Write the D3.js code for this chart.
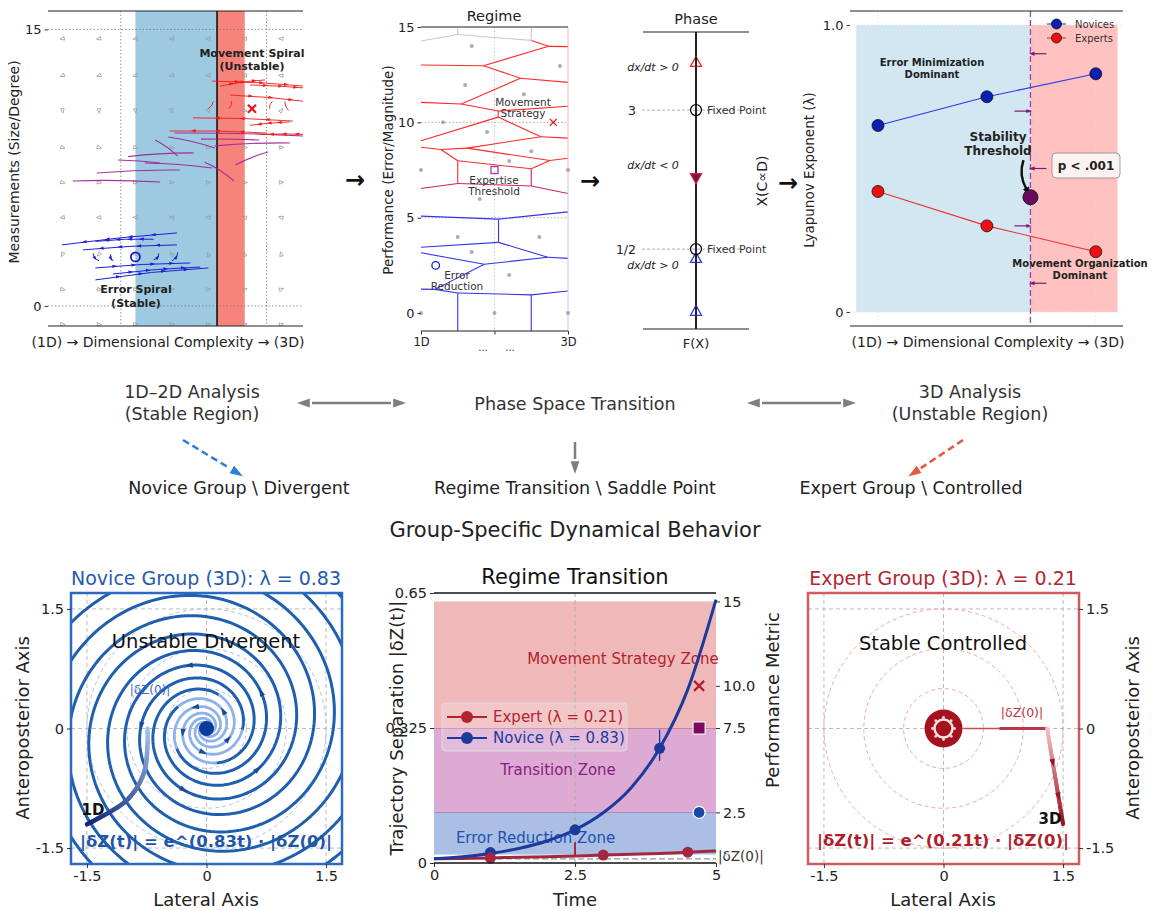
<!DOCTYPE html>
<html>
<head>
<meta charset="utf-8">
<script src="https://cdn.jsdelivr.net/npm/d3@7"></script>
<style>
  body { margin: 0; background: #fff; }
  text { font-family: "DejaVu Sans", sans-serif; }
</style>
</head>
<body>
<svg id="chart" width="1153" height="910"></svg>
<script>
// ---------------- data ----------------
// panel A: phase portrait
const bandsA = [
  { x0: 1.2, x1: 2.32, fill: "#9ecae1" },
  { x0: 2.32, x1: 2.7, fill: "#f6847b" }
];
const thresholdA = 2.32;
const quiverX = [0.2, 0.7, 1.2, 1.7, 2.2, 2.7, 3.2];
const quiverY = [14.5, 12.5, 10.6, 8.6, 6.7, 4.8, 2.8, 0.9, -1.0];
const errorCentre = [1.2, 2.66];
const movementCentre = [2.8, 10.7];
// streams: [x0, y0, x1, y1, bend(px)]
const blueStreams = [
  [1.77, 3.96, 0.19, 3.31, 2], [1.77, 3.31, 0.48, 3.04, 2], [1.45, 3.62, 0.65, 3.5, 2],
  [0.65, 2.06, 1.95, 2.33, -2], [0.65, 1.41, 2.2, 2.06, -3], [0.89, 1.73, 2.09, 2.11, -2],
  [0.62, 2.85, 0.7, 2.45, 3], [0.86, 2.8, 0.9, 2.45, 3], [1.45, 2.5, 1.52, 2.85, 3], [1.7, 2.45, 1.78, 2.9, 3]
];
const purpleStreams = [
  [1.81, 7.37, 0.67, 7.21, 2], [1.54, 6.72, 0.34, 6.78, 2], [2.25, 7.48, 1.33, 7.75, 2],
  [2.29, 8.57, 1.65, 9.16, 2], [1.78, 8.13, 1.47, 9.0, 2], [2.55, 6.78, 2.15, 7.8, 3],
  [3.5, 9.22, 1.74, 9.38, 2], [3.32, 8.84, 2.29, 8.68, 2], [1.54, 7.75, 0.96, 7.92, 1],
  [3.02, 8.35, 2.57, 7.64, 2], [2.0, 8.3, 1.1, 8.1, 2], [2.9, 9.0, 2.1, 9.05, 1]
];
const redStreams = [
  [2.25, 12.2, 3.6, 11.9, -2], [2.36, 11.93, 2.98, 12.26, -2], [2.77, 11.99, 3.6, 11.8, -1],
  [2.5, 11.44, 3.6, 11.06, -2], [3.36, 10.03, 1.99, 10.2, 2], [3.0, 9.38, 1.67, 9.49, 2],
  [3.32, 9.98, 2.77, 9.8, 1], [3.6, 9.3, 2.9, 9.3, 1],
  [2.2, 10.7, 2.27, 11.1, 2], [2.48, 10.7, 2.52, 11.1, 2], [3.04, 10.7, 3.08, 11.1, -2], [3.3, 10.6, 3.25, 11.1, -2]
];

// panel B: regime voronoi
const regimeDots = [
  [1.69, 14.0], [2.89, 12.95], [1.6, 11.96], [2.4, 11.48], [1.3, 10.0], [1.9, 9.49],
  [2.5, 8.49], [2.2, 7.97], [1.0, 7.5], [3.0, 7.5], [1.8, 5.98], [1.5, 3.99],
  [2.61, 3.99], [1.69, 3.2], [2.2, 1.99], [1, 0], [2, 0], [3, 0]
];
const regimeEdgeSeeds = [[1, 15], [2, 15], [3, 15]];
const errorMarkB = [1.2, 2.5];
const thresholdMarkB = [2.0, 7.5];
const movementMarkB = [2.8, 10.0];

// panel C: phase line (position along the line, 0 = bottom, 10 = top)
const phaseTriangles = [
  { v: 8.99, dir: "up", stroke: "#e8231f", fill: "none" },
  { v: 5.08, dir: "down", stroke: "#d0203a", fill: "#7a0f5a" },
  { v: 2.39, dir: "up", stroke: "#2a3fd0", fill: "none" },
  { v: 0.61, dir: "up", stroke: "#2a3fd0", fill: "none" }
];
const fixedPoints = [{ v: 7.37, label: "3" }, { v: 2.69, label: "1/2" }];
const rateLabels = [{ v: 8.8, s: "dx/dt > 0" }, { v: 5.5, s: "dx/dt < 0" }, { v: 2.13, s: "dx/dt > 0" }];

// panel D: Lyapunov exponent
const dimPos = [0, 1, 2];
const novicesLam = [0.65, 0.75, 0.83];
const expertsLam = [0.42, 0.30, 0.21];
const stabilityX = 1.4, stabilityY = 0.40;
const flowArrows = [{ y: 0.90, dir: -1 }, { y: 0.70, dir: 1 }, { y: 0.50, dir: -1 }, { y: 0.30, dir: 1 }, { y: 0.10, dir: -1 }];

// bottom middle: regime transition
const timeGrid = [0, 0.5, 1, 1.5, 2, 2.5, 3, 3.5, 4, 4.5, 5];
const noviceSep = [0.010, 0.015, 0.023, 0.035, 0.053, 0.080, 0.121, 0.182, 0.276, 0.418, 0.634];
const expertSep = [0.010, 0.011, 0.012, 0.014, 0.015, 0.017, 0.019, 0.021, 0.023, 0.026, 0.029];
const noviceMarks = [[1, 0.025], [2.5, 0.080], [4, 0.276]];
const expertMarks = [[1, 0.012], [3, 0.019], [4.5, 0.026]];
const zones = [
  { lo: 0, hi: 2.5, fill: "#aabfe3", edge: "#8e78c0", label: "Error Reduction Zone", lx: 1.8, ly: 1.0, color: "#2350b0" },
  { lo: 2.5, hi: 7.5, fill: "#dcaad3", edge: "#c0507a", label: "Transition Zone", lx: 2.2, ly: 5.0, color: "#8a1b86" },
  { lo: 7.5, hi: 15, fill: "#efb9b9", edge: "none", label: "Movement Strategy Zone", lx: 3.35, ly: 11.6, color: "#b3232f" }
];
const dz0 = 0.01;

// bottom sides: spirals
const lamNovice = 0.83, lamExpert = 0.21;
const novArms = 5, novA = 0.00116, novP = 2.46, novTheta = [4.6, 23];
const ringRadii = [0.5, 1.0, 1.5];
const noviceTraj = [[-0.74, 0], [-0.74, -0.2], [-0.79, -0.57], [-1.0, -0.9], [-1.5, -1.2]];
const expertTraj = [[1.3, 0], [1.5, -1.2]];

// ---------------- helpers ----------------
const svg = d3.select("#chart");
svg.append("rect").attr("width", 1153).attr("height", 910).attr("fill", "#fff");
const defs = svg.append("defs");

function addText(g, x, y, s, o = {}) {
  const t = g.append("text").attr("x", x).attr("y", y).text(s)
    .attr("text-anchor", o.anchor || "middle")
    .attr("dominant-baseline", "central")
    .attr("font-size", o.size || 12)
    .attr("font-weight", o.weight || "normal")
    .attr("font-style", o.style || "normal")
    .attr("fill", o.fill || "#222");
  if (o.rotate) t.attr("transform", `rotate(${o.rotate},${x},${y})`);
  return t;
}
function arrowHead(g, x, y, ang, size, color) {
  const pts = [[size, 0], [-size * 0.6, size * 0.55], [-size * 0.6, -size * 0.55]]
    .map(([a, b]) => [x + a * Math.cos(ang) - b * Math.sin(ang), y + a * Math.sin(ang) + b * Math.cos(ang)]);
  g.append("path").attr("d", "M" + pts.join("L") + "Z").attr("fill", color);
}
function stream(g, xs, ys, s, color, w, nArrows, opacity) {
  const p0 = [xs(s[0]), ys(s[1])], p2 = [xs(s[2]), ys(s[3])];
  const dx = p2[0] - p0[0], dy = p2[1] - p0[1], L = Math.hypot(dx, dy);
  const p1 = [(p0[0] + p2[0]) / 2 - dy / L * s[4], (p0[1] + p2[1]) / 2 + dx / L * s[4]];
  g.append("path").attr("d", `M${p0}Q${p1} ${p2}`).attr("fill", "none")
    .attr("stroke", color).attr("stroke-width", w).attr("opacity", opacity || 1);
  for (let k = 1; k <= nArrows; k++) {
    const t = k / (nArrows + 1);
    const px = (1 - t) ** 2 * p0[0] + 2 * (1 - t) * t * p1[0] + t * t * p2[0];
    const py = (1 - t) ** 2 * p0[1] + 2 * (1 - t) * t * p1[1] + t * t * p2[1];
    const ddx = 2 * (1 - t) * (p1[0] - p0[0]) + 2 * t * (p2[0] - p1[0]);
    const ddy = 2 * (1 - t) * (p1[1] - p0[1]) + 2 * t * (p2[1] - p1[1]);
    arrowHead(g, px, py, Math.atan2(ddy, ddx), 3, color);
  }
}
function styleAxis(g, fs) {
  g.select(".domain").remove();
  g.attr("font-family", "DejaVu Sans, sans-serif");
  g.selectAll(".tick text").attr("font-size", fs).attr("fill", "#222");
  g.selectAll(".tick line").attr("stroke", "#333");
}
function clip(id, x, y, w, h) {
  defs.append("clipPath").attr("id", id).append("rect").attr("x", x).attr("y", y).attr("width", w).attr("height", h);
  return `url(#${id})`;
}
function gradientPath(g, pts, xs, ys, c0, c1, w) {
  const tmp = g.append("path").attr("d", d3.line().x(d => xs(d[0])).y(d => ys(d[1])).curve(d3.curveCatmullRom)(pts))
    .attr("fill", "none");
  const node = tmp.node(), len = node.getTotalLength(), n = 40;
  let prev = node.getPointAtLength(0);
  for (let i = 1; i <= n; i++) {
    const p = node.getPointAtLength(len * i / n);
    g.append("line").attr("x1", prev.x).attr("y1", prev.y).attr("x2", p.x).attr("y2", p.y)
      .attr("stroke", d3.interpolateRgb(c0, c1)(i / n)).attr("stroke-width", w).attr("stroke-linecap", "round");
    prev = p;
  }
  tmp.remove();
}
const fmtTick = d => d === 0 ? "0" : String(d);

// ---------------- panel A ----------------
const gA = svg.append("g");
const xA = d3.scaleLinear().domain([0, 3.5]).range([48, 303]);
const yA = d3.scaleLinear().domain([-1.09, 16.0]).range([326, 11]);
const gAc = gA.append("g").attr("clip-path", clip("clipA", 48, 11, 255, 315));

bandsA.forEach(b => gAc.append("rect").attr("x", xA(b.x0)).attr("y", 11)
  .attr("width", xA(b.x1) - xA(b.x0)).attr("height", 315).attr("fill", b.fill));
[0, 15].forEach(v => gAc.append("line").attr("x1", 48).attr("x2", 303).attr("y1", yA(v)).attr("y2", yA(v))
  .attr("stroke", "#777").attr("stroke-width", 0.8).attr("stroke-dasharray", "1.5,2"));
[1, 3].forEach(v => gAc.append("line").attr("x1", xA(v)).attr("x2", xA(v)).attr("y1", 11).attr("y2", 326)
  .attr("stroke", "#777").attr("stroke-width", 0.8).attr("stroke-dasharray", "1.5,2"));
gAc.append("line").attr("x1", xA(thresholdA)).attr("x2", xA(thresholdA)).attr("y1", 11).attr("y2", 326)
  .attr("stroke", "#111").attr("stroke-width", 1.6);

// grey direction field (small open triangles)
quiverX.forEach(qx => quiverY.forEach(qy => {
  const c = qy > 6 ? movementCentre : errorCentre;
  const ang = Math.atan2(-(qx - c[0]) * 0.3, -(qy - c[1]));
  const px = xA(qx), py = yA(qy), s = 2.6;
  const pts = [[s, 0], [-s * 0.7, s * 0.7], [-s * 0.7, -s * 0.7]]
    .map(([a, b]) => [px + a * Math.cos(ang) - b * Math.sin(ang), py + a * Math.sin(ang) + b * Math.cos(ang)]);
  gAc.append("path").attr("d", "M" + pts.join("L") + "Z")
    .attr("fill", "none").attr("stroke", "#9a9a9a").attr("stroke-width", 0.8);
}));

purpleStreams.forEach(s => stream(gAc, xA, yA, s, "#9b1f95", 1.1, 0, 0.9));
redStreams.forEach(s => stream(gAc, xA, yA, s, "#f21b1b", 1, Math.abs(s[0] - s[2]) > 0.3 ? 3 : 0, 0.9));
blueStreams.forEach(s => stream(gAc, xA, yA, s, "#1d1fd6", 1, Math.abs(s[0] - s[2]) > 0.3 ? 4 : 1));

gA.append("circle").attr("cx", xA(errorCentre[0])).attr("cy", yA(errorCentre[1])).attr("r", 4.5)
  .attr("fill", "none").attr("stroke", "#1a1ad0").attr("stroke-width", 1.8);
{
  const cx = xA(movementCentre[0]), cy = yA(movementCentre[1]), r = 4;
  gA.append("path").attr("d", `M${cx - r},${cy - r}L${cx + r},${cy + r}M${cx - r},${cy + r}L${cx + r},${cy - r}`)
    .attr("stroke", "#e8141a").attr("stroke-width", 2.2);
}
addText(gA, 252, 53, "Movement Spiral", { size: 11, weight: "bold" });
addText(gA, 252, 66, "(Unstable)", { size: 11, weight: "bold" });
addText(gA, 136, 289, "Error Spiral", { size: 11, weight: "bold" });
addText(gA, 136, 303, "(Stable)", { size: 11, weight: "bold" });

gA.append("line").attr("x1", 48).attr("x2", 303).attr("y1", 11).attr("y2", 11).attr("stroke", "#222");
gA.append("line").attr("x1", 48).attr("x2", 303).attr("y1", 326).attr("y2", 326).attr("stroke", "#222");
gA.append("g").attr("transform", "translate(48,0)")
  .call(d3.axisLeft(yA).tickValues([0, 15]).tickSize(3.5).tickPadding(3)).call(g => styleAxis(g, 13));
addText(gA, 14, 162, "Measurements (Size/Degree)", { size: 14, rotate: -90 });
addText(gA, 168, 342, "(1D)   →   Dimensional Complexity   →   (3D)", { size: 14 });

// ---------------- panel B ----------------
const gB = svg.append("g");
const xB = d3.scaleLinear().domain([1, 3]).range([421, 568]);
const yB = d3.scaleLinear().domain([-0.94, 15]).range([331, 27]);
[5, 10].forEach(v => gB.append("line").attr("x1", 421).attr("x2", 568).attr("y1", yB(v)).attr("y2", yB(v))
  .attr("stroke", "#999").attr("stroke-width", 0.8).attr("stroke-dasharray", "1.5,2"));
gB.append("line").attr("x1", xB(2)).attr("x2", xB(2)).attr("y1", 27).attr("y2", 331)
  .attr("stroke", "#bbb").attr("stroke-width", 0.8).attr("stroke-dasharray", "1.5,2");

const seeds = regimeDots.concat(regimeEdgeSeeds, [errorMarkB, thresholdMarkB, movementMarkB]);
const vor = d3.Delaunay.from(seeds).voronoi([1, -0.94, 3, 15]);
const seen = new Set();
const edgeColor = y => y > 14.2 ? "#c8c8c8" : y > 7.2 ? "#ff2a2a" : y > 5.8 ? "#d0206a" : "#3333ee";
for (let i = 0; i < seeds.length; i++) {
  const poly = vor.cellPolygon(i);
  if (!poly) continue;
  for (let k = 0; k < poly.length - 1; k++) {
    const a = poly[k], b = poly[k + 1];
    const onBound = (Math.abs(a[0] - b[0]) < 1e-9 && (Math.abs(a[0] - 1) < 1e-9 || Math.abs(a[0] - 3) < 1e-9)) ||
      (Math.abs(a[1] - b[1]) < 1e-9 && (Math.abs(a[1] + 0.94) < 1e-9 || Math.abs(a[1] - 15) < 1e-9));
    if (onBound) continue;
    const key = [a, b].map(p => p.map(v => v.toFixed(4)).join(",")).sort().join("|");
    if (seen.has(key)) continue;
    seen.add(key);
    gB.append("line").attr("x1", xB(a[0])).attr("y1", yB(a[1])).attr("x2", xB(b[0])).attr("y2", yB(b[1]))
      .attr("stroke", edgeColor((a[1] + b[1]) / 2)).attr("stroke-width", 1.1);
  }
}
gB.append("line").attr("x1", 568).attr("x2", 568).attr("y1", yB(7)).attr("y2", 27).attr("stroke", "#f4b4b4");
gB.append("line").attr("x1", 568).attr("x2", 568).attr("y1", yB(7)).attr("y2", 331).attr("stroke", "#c4c4f4");
regimeDots.forEach(d => gB.append("circle").attr("cx", xB(d[0])).attr("cy", yB(d[1])).attr("r", 2)
  .attr("fill", "#999").attr("opacity", 0.8));
gB.append("circle").attr("cx", xB(errorMarkB[0])).attr("cy", yB(errorMarkB[1])).attr("r", 3.8)
  .attr("fill", "none").attr("stroke", "#1a1ad0").attr("stroke-width", 1.3);
gB.append("rect").attr("x", xB(thresholdMarkB[0]) - 3.5).attr("y", yB(thresholdMarkB[1]) - 3.5)
  .attr("width", 7).attr("height", 7).attr("fill", "none").attr("stroke", "#a040a8").attr("stroke-width", 1.3);
{
  const cx = xB(movementMarkB[0]), cy = yB(movementMarkB[1]), r = 3.5;
  gB.append("path").attr("d", `M${cx - r},${cy - r}L${cx + r},${cy + r}M${cx - r},${cy + r}L${cx + r},${cy - r}`)
    .attr("stroke", "#e8141a").attr("stroke-width", 1.3);
}
addText(gB, 523, 102, "Movement", { size: 10.5, fill: "#333" });
addText(gB, 523, 113, "Strategy", { size: 10.5, fill: "#333" });
addText(gB, 494, 180, "Expertise", { size: 10.5, fill: "#333" });
addText(gB, 494, 191, "Threshold", { size: 10.5, fill: "#333" });
addText(gB, 457, 275, "Error", { size: 10.5, fill: "#333" });
addText(gB, 457, 286, "Reduction", { size: 10.5, fill: "#333" });
gB.append("line").attr("x1", 421).attr("x2", 568).attr("y1", 27).attr("y2", 27).attr("stroke", "#222");
gB.append("line").attr("x1", 421).attr("x2", 568).attr("y1", 331).attr("y2", 331).attr("stroke", "#222");
gB.append("g").attr("transform", "translate(421,0)")
  .call(d3.axisLeft(yB).tickValues([0, 5, 10, 15]).tickSize(3.5).tickPadding(3)).call(g => styleAxis(g, 13));
gB.append("g").attr("transform", "translate(0,331)")
  .call(d3.axisBottom(xB).tickValues([1, 2, 3]).tickSize(3.5).tickFormat(d => d === 1 ? "1D" : d === 3 ? "3D" : ""))
  .call(g => styleAxis(g, 11.5));
addText(gB, 483, 347, "...", { size: 10, fill: "#333" });
addText(gB, 510, 347, "...", { size: 10, fill: "#333" });
addText(gB, 494, 16, "Regime", { size: 14.5 });
addText(gB, 388, 170, "Performance (Error/Magnitude)", { size: 13.5, rotate: -90 });

// ---------------- panel C ----------------
const gC = svg.append("g");
const yC = d3.scaleLinear().domain([0, 10]).range([329, 32]);
const xLine = 696;
gC.append("line").attr("x1", 643).attr("x2", 749).attr("y1", 32).attr("y2", 32).attr("stroke", "#222").attr("stroke-width", 1.2);
gC.append("line").attr("x1", 643).attr("x2", 749).attr("y1", 329).attr("y2", 329).attr("stroke", "#222").attr("stroke-width", 1.2);
fixedPoints.forEach(f => {
  gC.append("line").attr("x1", 642).attr("x2", 742).attr("y1", yC(f.v)).attr("y2", yC(f.v))
    .attr("stroke", "#999").attr("stroke-width", 0.8).attr("stroke-dasharray", "3,2");
});
gC.append("line").attr("x1", xLine).attr("x2", xLine).attr("y1", 32).attr("y2", 329).attr("stroke", "#222").attr("stroke-width", 2);
phaseTriangles.forEach(t => {
  const cy = yC(t.v), s = 5.5;
  const d = t.dir === "up" ? `M${xLine},${cy - s}L${xLine + s},${cy + s * 0.8}L${xLine - s},${cy + s * 0.8}Z`
    : `M${xLine},${cy + s}L${xLine + s},${cy - s * 0.8}L${xLine - s},${cy - s * 0.8}Z`;
  gC.append("path").attr("d", d).attr("fill", t.fill === "none" ? "#fff" : t.fill).attr("stroke", t.stroke).attr("stroke-width", 1.3);
  if (t.fill === "none") gC.append("line").attr("x1", xLine).attr("x2", xLine).attr("y1", cy - s).attr("y2", cy + s * 0.8).attr("stroke", "#222").attr("stroke-width", 2);
});
fixedPoints.forEach(f => {
  gC.append("circle").attr("cx", xLine).attr("cy", yC(f.v)).attr("r", 5.5).attr("fill", "none").attr("stroke", "#111").attr("stroke-width", 1.3);
  addText(gC, 707, yC(f.v), "Fixed Point", { size: 11, anchor: "start", fill: "#333" });
  addText(gC, 636, yC(f.v), f.label, { size: 12.5, anchor: "end" });
});
rateLabels.forEach(r => addText(gC, 653, yC(r.v), r.s, { size: 11, style: "italic", fill: "#222" }));
addText(gC, xLine, 19, "Phase", { size: 14.5 });
addText(gC, xLine, 343, "F(X)", { size: 13 });
addText(gC, 762, 181, "X(C∝D)", { size: 14, rotate: -90 });

// ---------------- panel D ----------------
const gD = svg.append("g");
const xD = d3.scaleLinear().domain([-0.257, 2.25]).range([850, 1123]);
const yD = d3.scaleLinear().domain([-0.049, 1.049]).range([326, 11]);
gD.append("rect").attr("x", xD(-0.2)).attr("y", yD(1)).attr("width", xD(stabilityX) - xD(-0.2)).attr("height", yD(0) - yD(1)).attr("fill", "#d2e7f1");
gD.append("rect").attr("x", xD(stabilityX)).attr("y", yD(1)).attr("width", xD(2.2) - xD(stabilityX)).attr("height", yD(0) - yD(1)).attr("fill", "#ffc2c0");
dimPos.filter(d => d !== 1).forEach(d => gD.append("line").attr("x1", xD(d)).attr("x2", xD(d)).attr("y1", 11).attr("y2", 326)
  .attr("stroke", "#ddd").attr("stroke-width", 0.8).attr("stroke-dasharray", "1.5,2"));
[0, 1].forEach(v => gD.append("line").attr("x1", 850).attr("x2", 1123).attr("y1", yD(v)).attr("y2", yD(v))
  .attr("stroke", "#ddd").attr("stroke-width", 0.8).attr("stroke-dasharray", "1.5,2"));
gD.append("line").attr("x1", xD(stabilityX)).attr("x2", xD(stabilityX)).attr("y1", 11).attr("y2", 326)
  .attr("stroke", "#a040a8").attr("stroke-width", 1.3).attr("stroke-dasharray", "6,3");
flowArrows.forEach(f => {
  const x0 = xD(stabilityX), y = yD(f.y);
  const xs = f.dir < 0 ? x0 + 16 : x0 - 16, xe = f.dir < 0 ? x0 + 2 : x0 - 2;
  gD.append("line").attr("x1", xs).attr("x2", xe).attr("y1", y).attr("y2", y).attr("stroke", "#7a1a7a").attr("stroke-width", 1.2);
  arrowHead(gD, xe, y, f.dir < 0 ? Math.PI : 0, 3.5, "#7a1a7a");
});
const lineD = d3.line().x((d, i) => xD(dimPos[i])).y(d => yD(d));
gD.append("path").attr("d", lineD(novicesLam)).attr("fill", "none").attr("stroke", "#2a3ae8").attr("stroke-width", 1.1);
gD.append("path").attr("d", lineD(expertsLam)).attr("fill", "none").attr("stroke", "#f03030").attr("stroke-width", 1.1);
novicesLam.forEach((v, i) => gD.append("circle").attr("cx", xD(dimPos[i])).attr("cy", yD(v)).attr("r", 6).attr("fill", "#0b1fb0").attr("stroke", "#111").attr("stroke-width", 0.8));
expertsLam.forEach((v, i) => gD.append("circle").attr("cx", xD(dimPos[i])).attr("cy", yD(v)).attr("r", 6).attr("fill", "#ee1010").attr("stroke", "#111").attr("stroke-width", 0.8));
gD.append("path").attr("d", `M${xD(stabilityX) - 7},${yD(stabilityY) - 37}Q${xD(stabilityX) - 12},${yD(stabilityY) - 22} ${xD(stabilityX) - 4},${yD(stabilityY) - 8}`)
  .attr("fill", "none").attr("stroke", "#111").attr("stroke-width", 2.5);
arrowHead(gD, xD(stabilityX) - 3, yD(stabilityY) - 6, 1.15, 6, "#111");
gD.append("circle").attr("cx", xD(stabilityX)).attr("cy", yD(stabilityY)).attr("r", 7.5).attr("fill", "#6a0a5e").attr("stroke", "#111").attr("stroke-width", 0.9);
addText(gD, 932, 62, "Error Minimization", { size: 10, weight: "bold" });
addText(gD, 932, 74, "Dominant", { size: 10, weight: "bold" });
addText(gD, 998, 137, "Stability", { size: 12, weight: "bold" });
addText(gD, 998, 151, "Threshold", { size: 12, weight: "bold" });
addText(gD, 1080, 263, "Movement Organization", { size: 10, weight: "bold" });
addText(gD, 1080, 275, "Dominant", { size: 10, weight: "bold" });
gD.append("rect").attr("x", 1052).attr("y", 153).attr("width", 68).attr("height", 25).attr("rx", 4)
  .attr("fill", "#fdf2f2").attr("stroke", "#888").attr("stroke-width", 0.8);
addText(gD, 1086, 165.5, "p < .001", { size: 12, weight: "bold" });
[{ y: 24, s: "Novices", line: "#2a3ae8", fill: "#0b1fb0" }, { y: 38, s: "Experts", line: "#f03030", fill: "#ee1010" }].forEach(l => {
  gD.append("line").attr("x1", 1047).attr("x2", 1066).attr("y1", l.y).attr("y2", l.y).attr("stroke", l.line).attr("stroke-width", 1.1);
  gD.append("circle").attr("cx", 1056.5).attr("cy", l.y).attr("r", 5).attr("fill", l.fill).attr("stroke", "#111").attr("stroke-width", 0.8);
  addText(gD, 1075, l.y, l.s, { size: 10, anchor: "start", fill: "#333" });
});
gD.append("line").attr("x1", 850).attr("x2", 1123).attr("y1", 11).attr("y2", 11).attr("stroke", "#222");
gD.append("line").attr("x1", 850).attr("x2", 1123).attr("y1", 326).attr("y2", 326).attr("stroke", "#222");
gD.append("g").attr("transform", "translate(850,0)")
  .call(d3.axisLeft(yD).tickValues([0, 1]).tickSize(3.5).tickPadding(3).tickFormat(d => d === 0 ? "0" : "1.0"))
  .call(g => styleAxis(g, 13));
addText(gD, 809, 170, "Lyapunov Exponent (λ)", { size: 13.5, rotate: -90 });
addText(gD, 988, 342, "(1D) → Dimensional Complexity → (3D)", { size: 14 });

// arrows between top panels
[[355, 180], [590, 181], [788, 183]].forEach(([x, y]) => addText(svg, x, y, "→", { size: 24, weight: "bold", fill: "#111" }));

// ---------------- middle flow ----------------
const gM = svg.append("g");
addText(gM, 192, 392, "1D–2D Analysis", { size: 17.5, fill: "#333" });
addText(gM, 192, 414, "(Stable Region)", { size: 17.5, fill: "#333" });
addText(gM, 575, 404, "Phase Space Transition", { size: 17.5, fill: "#333" });
addText(gM, 970, 392, "3D Analysis", { size: 17.5, fill: "#333" });
addText(gM, 970, 414, "(Unstable Region)", { size: 17.5, fill: "#333" });
addText(gM, 239, 488, "Novice Group \\ Divergent", { size: 17.5, fill: "#222" });
addText(gM, 575, 488, "Regime Transition \\ Saddle Point", { size: 17.5, fill: "#222" });
addText(gM, 911, 488, "Expert Group \\ Controlled", { size: 17.5, fill: "#222" });
addText(gM, 575, 530, "Group-Specific Dynamical Behavior", { size: 21, fill: "#222" });
function flowArrow(x0, y0, x1, y1, color, dash, both) {
  const ang = Math.atan2(y1 - y0, x1 - x0), off = 7;
  gM.append("line").attr("x1", x0 + (both ? off * Math.cos(ang) : 0)).attr("y1", y0 + (both ? off * Math.sin(ang) : 0))
    .attr("x2", x1 - off * Math.cos(ang)).attr("y2", y1 - off * Math.sin(ang))
    .attr("stroke", color).attr("stroke-width", 2.5).attr("stroke-dasharray", dash || null);
  arrowHead(gM, x1, y1, ang, 8, color);
  if (both) arrowHead(gM, x0, y0, ang + Math.PI, 8, color);
}
flowArrow(305, 403, 398, 403, "#7f7f7f", null, true);
flowArrow(755, 403, 848, 403, "#7f7f7f", null, true);
flowArrow(575, 442, 575, 466, "#7f7f7f", null, false);
flowArrow(183, 440, 236, 472, "#2a7fd8", "7,4", false);
flowArrow(963, 440, 915, 472, "#e5573f", "7,4", false);

// ---------------- bottom left: novice ----------------
const gN = svg.append("g");
const xN = d3.scaleLinear().domain([-1.7, 1.7]).range([71, 342]);
const yN = d3.scaleLinear().domain([-1.7, 1.7]).range([864, 593]);
const gNc = gN.append("g").attr("clip-path", clip("clipN", 71, 593, 271, 271));
[-1.5, 0, 1.5].forEach(v => {
  gNc.append("line").attr("x1", xN(v)).attr("x2", xN(v)).attr("y1", 593).attr("y2", 864).attr("stroke", "#bbb").attr("stroke-dasharray", "4,3");
  gNc.append("line").attr("y1", yN(v)).attr("y2", yN(v)).attr("x1", 71).attr("x2", 342).attr("stroke", "#bbb").attr("stroke-dasharray", "4,3");
});
ringRadii.forEach(r => gNc.append("circle").attr("cx", xN(0)).attr("cy", yN(0)).attr("r", xN(r) - xN(0))
  .attr("fill", "none").attr("stroke", "#a9c3ea").attr("stroke-width", 1).attr("stroke-dasharray", "4,3"));
const armLine = d3.line().x(d => xN(d[0])).y(d => yN(d[1]));
for (let k = 0; k < novArms; k++) {
  const ph = 2 * Math.PI * k / novArms, inner = [], outer = [];
  for (let th = novTheta[0]; th <= novTheta[1]; th += 0.04) {
    const r = novA * Math.pow(th, novP), p = [r * Math.cos(th + ph), r * Math.sin(th + ph)];
    if (r < 0.45) inner.push(p); else { if (!outer.length && inner.length) outer.push(inner[inner.length - 1]); outer.push(p); }
  }
  gNc.append("path").attr("d", armLine(inner)).attr("fill", "none").attr("stroke", "#8db1ea").attr("stroke-width", 2.8);
  gNc.append("path").attr("d", armLine(outer)).attr("fill", "none").attr("stroke", "#1f5fb0").attr("stroke-width", 3);
  [0.3, 0.82].forEach(r => {
    const th = Math.pow(r / novA, 1 / novP), dr = novA * novP * Math.pow(th, novP - 1);
    const dx = dr * Math.cos(th + ph) - r * Math.sin(th + ph), dy = dr * Math.sin(th + ph) + r * Math.cos(th + ph);
    arrowHead(gNc, xN(r * Math.cos(th + ph)), yN(r * Math.sin(th + ph)), Math.atan2(-dy, dx), 5, "#174a98");
  });
}
gNc.append("circle").attr("cx", xN(0)).attr("cy", yN(0)).attr("r", 7.5).attr("fill", "#0a3d99");
gradientPath(gNc, noviceTraj, xN, yN, "#a8c8f0", "#13257a", 4.5);
addText(gN, 150, 690, "|δZ(0)|", { size: 12, fill: "#3a6cc0" });
addText(gN, 206, 641, "Unstable Divergent", { size: 19.5, fill: "#111" });
addText(gN, 93, 810, "1D", { size: 15, weight: "bold", fill: "#111" });
addText(gN, 206, 841, `|δZ(t)| = e^(${lamNovice}t) · |δZ(0)|`, { size: 16.5, weight: "bold", fill: "#1f56a8" });
gN.append("rect").attr("x", 71).attr("y", 593).attr("width", 271).attr("height", 271).attr("fill", "none").attr("stroke", "#2c6ac2").attr("stroke-width", 2.5);
gN.append("g").attr("transform", "translate(71,0)").call(d3.axisLeft(yN).tickValues([-1.5, 0, 1.5]).tickSize(4).tickFormat(fmtTick)).call(g => styleAxis(g, 14.5));
gN.append("g").attr("transform", "translate(0,864)").call(d3.axisBottom(xN).tickValues([-1.5, 0, 1.5]).tickSize(4).tickFormat(fmtTick)).call(g => styleAxis(g, 14.5));
addText(gN, 206, 578, `Novice Group (3D): λ = ${lamNovice}`, { size: 19, fill: "#1f5ab0" });
addText(gN, 206, 899, "Lateral Axis", { size: 18, fill: "#222" });
addText(gN, 22, 728, "Anteroposterior Axis", { size: 18, fill: "#222", rotate: -90 });

// ---------------- bottom middle: regime transition ----------------
const gT = svg.append("g");
const xT = d3.scaleLinear().domain([0, 5]).range([434, 716]);
const yT = d3.scaleLinear().domain([0, 0.65]).range([863, 593]);
const yR = d3.scaleLinear().domain([-0.5, 15.5]).range([863, 593]);
zones.forEach(z => {
  gT.append("rect").attr("x", 434).attr("width", 282).attr("y", yR(z.hi)).attr("height", yR(z.lo) - yR(z.hi)).attr("fill", z.fill);
  if (z.edge !== "none") gT.append("line").attr("x1", 434).attr("x2", 716).attr("y1", yR(z.hi)).attr("y2", yR(z.hi)).attr("stroke", z.edge).attr("stroke-width", 1.2);
});
gT.append("line").attr("x1", xT(2.5)).attr("x2", xT(2.5)).attr("y1", 593).attr("y2", 863).attr("stroke", "#aaa").attr("stroke-dasharray", "4,3");
gT.append("line").attr("x1", 434).attr("x2", 716).attr("y1", yT(dz0)).attr("y2", yT(dz0)).attr("stroke", "#999").attr("stroke-width", 1.2).attr("stroke-dasharray", "6,3");
zones.forEach(z => addText(gT, xT(z.lx), yR(z.ly), z.label, { size: 15, fill: z.color }));
const sepLine = d3.line().x((d, i) => xT(timeGrid[i])).y(d => yT(d)).curve(d3.curveMonotoneX);
gT.append("path").attr("d", sepLine(expertSep)).attr("fill", "none").attr("stroke", "#a3283f").attr("stroke-width", 3);
gT.append("path").attr("d", sepLine(noviceSep)).attr("fill", "none").attr("stroke", "#1c3a9c").attr("stroke-width", 3);
gT.append("line").attr("x1", xT(4)).attr("x2", xT(4)).attr("y1", yT(0.276 - 0.03)).attr("y2", yT(0.276 + 0.045)).attr("stroke", "#1c3a9c").attr("stroke-width", 1.3);
gT.append("line").attr("x1", xT(2.5)).attr("x2", xT(2.5)).attr("y1", yT(0.015)).attr("y2", yT(0.05)).attr("stroke", "#a3283f").attr("stroke-width", 2);
noviceMarks.forEach(d => gT.append("circle").attr("cx", xT(d[0])).attr("cy", yT(d[1])).attr("r", 5.5).attr("fill", "#1c3a9c"));
expertMarks.forEach(d => gT.append("circle").attr("cx", xT(d[0])).attr("cy", yT(d[1])).attr("r", 5.5).attr("fill", "#a3283f"));
{
  const cx = xT(4.7), cy = yR(10), r = 5;
  gT.append("path").attr("d", `M${cx - r},${cy - r}L${cx + r},${cy + r}M${cx - r},${cy + r}L${cx + r},${cy - r}`).attr("stroke", "#b21f2a").attr("stroke-width", 2.3);
  gT.append("rect").attr("x", xT(4.7) - 6).attr("y", yR(7.5) - 6).attr("width", 12).attr("height", 12).attr("fill", "#7d0a5e").attr("stroke", "#fff").attr("stroke-width", 1);
  gT.append("circle").attr("cx", xT(4.7)).attr("cy", yR(2.5)).attr("r", 6).attr("fill", "#1a4aa8").attr("stroke", "#fff").attr("stroke-width", 1.3);
}
// legend
gT.append("rect").attr("x", 442).attr("y", 703).attr("width", 185).attr("height", 48).attr("rx", 3)
  .attr("fill", "#fff").attr("fill-opacity", 0.2).attr("stroke", "#ddd");
[{ y: 717, s: `Expert (λ = ${lamExpert})`, c: "#b3232f" }, { y: 738, s: `Novice (λ = ${lamNovice})`, c: "#1c3a9c" }].forEach(l => {
  gT.append("line").attr("x1", 447).attr("x2", 487).attr("y1", l.y).attr("y2", l.y).attr("stroke", l.c).attr("stroke-width", 2);
  gT.append("circle").attr("cx", 467).attr("cy", l.y).attr("r", 6).attr("fill", l.c);
  addText(gT, 493, l.y, l.s, { size: 15, anchor: "start", fill: l.c });
});
addText(gT, 718, yT(dz0) - 3, "|δZ(0)|", { size: 13.5, anchor: "start", fill: "#333" });
gT.append("line").attr("x1", 434).attr("x2", 716).attr("y1", 593).attr("y2", 593).attr("stroke", "#111").attr("stroke-width", 1.3);
gT.append("line").attr("x1", 434).attr("x2", 716).attr("y1", 863).attr("y2", 863).attr("stroke", "#111").attr("stroke-width", 1.3);
gT.append("g").attr("transform", "translate(434,0)").call(d3.axisLeft(yT).tickValues([0, 0.325, 0.65]).tickSize(4).tickFormat(fmtTick)).call(g => styleAxis(g, 14.5));
gT.append("g").attr("transform", "translate(716,0)").call(d3.axisRight(yR).tickValues([2.5, 7.5, 10, 15]).tickSize(4).tickFormat(d => d === 10 ? "10.0" : d)).call(g => styleAxis(g, 14.5));
gT.append("g").attr("transform", "translate(0,863)").call(d3.axisBottom(xT).tickValues([0, 2.5, 5]).tickSize(4).tickFormat(fmtTick)).call(g => styleAxis(g, 14.5));
addText(gT, 575, 577, "Regime Transition", { size: 21, fill: "#111" });
addText(gT, 575, 899, "Time", { size: 18, fill: "#222" });
addText(gT, 396, 728, "Trajectory Separation |δZ(t)|", { size: 18, fill: "#222", rotate: -90 });
addText(gT, 772, 700, "Performance Metric", { size: 18, fill: "#222", rotate: -90 });

// ---------------- bottom right: expert ----------------
const gE = svg.append("g");
const xE = d3.scaleLinear().domain([-1.7, 1.7]).range([808, 1079]);
const yE = d3.scaleLinear().domain([-1.7, 1.7]).range([864, 593]);
const gEc = gE.append("g").attr("clip-path", clip("clipE", 808, 593, 271, 271));
[-1.5, 0, 1.5].forEach(v => {
  gEc.append("line").attr("x1", xE(v)).attr("x2", xE(v)).attr("y1", 593).attr("y2", 864).attr("stroke", "#bbb").attr("stroke-dasharray", "4,3");
  gEc.append("line").attr("y1", yE(v)).attr("y2", yE(v)).attr("x1", 808).attr("x2", 1079).attr("stroke", "#bbb").attr("stroke-dasharray", "4,3");
});
ringRadii.forEach(r => gEc.append("circle").attr("cx", xE(0)).attr("cy", yE(0)).attr("r", xE(r) - xE(0))
  .attr("fill", "none").attr("stroke", "#f1a7a7").attr("stroke-width", 1).attr("stroke-dasharray", "4,3"));
gEc.append("line").attr("x1", xE(0.25)).attr("x2", xE(0.7)).attr("y1", yE(0)).attr("y2", yE(0)).attr("stroke", "#c44a55").attr("stroke-width", 1.5);
gEc.append("line").attr("x1", xE(0.7)).attr("x2", xE(expertTraj[0][0])).attr("y1", yE(0)).attr("y2", yE(0)).attr("stroke", "#b8384a").attr("stroke-width", 3);
gradientPath(gEc, expertTraj, xE, yE, "#f7c8c8", "#9a1424", 4);
[0.35, 0.7].forEach(t => {
  const x = expertTraj[0][0] + t * (expertTraj[1][0] - expertTraj[0][0]), y = expertTraj[0][1] + t * (expertTraj[1][1] - expertTraj[0][1]);
  arrowHead(gEc, xE(x), yE(y), Math.atan2(yE(expertTraj[1][1]) - yE(expertTraj[0][1]), xE(expertTraj[1][0]) - xE(expertTraj[0][0])), 5, "#9a1424");
});
gEc.append("circle").attr("cx", xE(0)).attr("cy", yE(0)).attr("r", 19).attr("fill", "#a5121f");
gEc.append("circle").attr("cx", xE(0)).attr("cy", yE(0)).attr("r", 9).attr("fill", "none").attr("stroke", "#fbe3e3").attr("stroke-width", 2.5);
d3.range(8).forEach(i => {
  const a = i * Math.PI / 4;
  gEc.append("circle").attr("cx", xE(0) + 11 * Math.cos(a)).attr("cy", yE(0) + 11 * Math.sin(a)).attr("r", 1.4).attr("fill", "#f8d8d8");
});
gEc.append("circle").attr("cx", xE(0)).attr("cy", yE(0)).attr("r", 6).attr("fill", "#a5121f");
addText(gE, 1022, 712, "|δZ(0)|", { size: 12.5, fill: "#c03040" });
addText(gE, 943, 643, "Stable Controlled", { size: 19.5, fill: "#111" });
addText(gE, 1050, 819, "3D", { size: 15, weight: "bold", fill: "#111" });
addText(gE, 943, 840, `|δZ(t)| = e^(${lamExpert}t) · |δZ(0)|`, { size: 16.5, weight: "bold", fill: "#b01e2c" });
gE.append("rect").attr("x", 808).attr("y", 593).attr("width", 271).attr("height", 271).attr("fill", "none").attr("stroke", "#cf5a60").attr("stroke-width", 2.5);
gE.append("g").attr("transform", "translate(1079,0)").call(d3.axisRight(yE).tickValues([-1.5, 0, 1.5]).tickSize(4).tickFormat(fmtTick)).call(g => styleAxis(g, 14.5));
gE.append("g").attr("transform", "translate(0,864)").call(d3.axisBottom(xE).tickValues([-1.5, 0, 1.5]).tickSize(4).tickFormat(fmtTick)).call(g => styleAxis(g, 14.5));
addText(gE, 943, 578, `Expert Group (3D): λ = ${lamExpert}`, { size: 19, fill: "#b32430" });
addText(gE, 943, 899, "Lateral Axis", { size: 18, fill: "#222" });
addText(gE, 1132, 728, "Anteroposterior Axis", { size: 18, fill: "#222", rotate: -90 });
</script>
</body>
</html>
